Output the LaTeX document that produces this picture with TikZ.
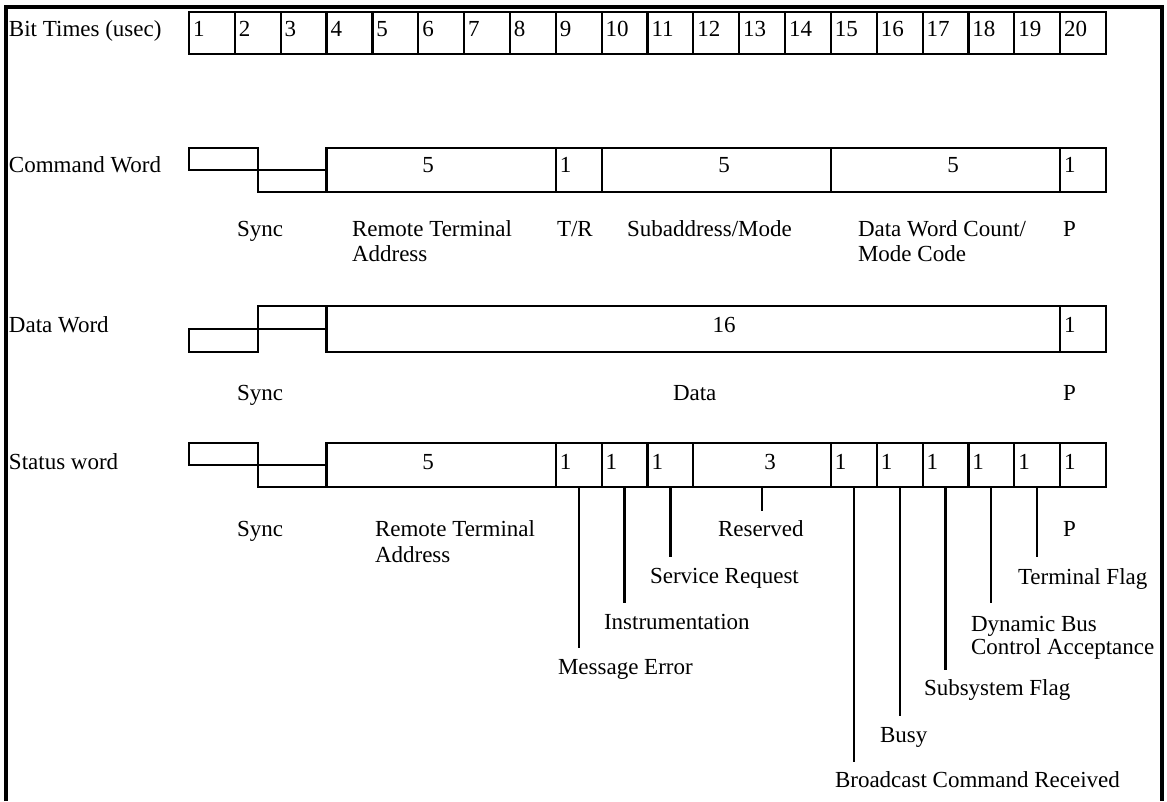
\documentclass[tikz,border=0pt]{standalone}
\usepackage{fontspec}
\setmainfont{Liberation Serif}
\newcommand\mkfield[5]{%
  \pgfmathsetmacro\fxa{189+(#2-1)*45.85}%
  \pgfmathsetmacro\fxb{189+(#3-1)*45.85}%
  \pgfmathsetmacro\fw{\fxb-\fxa}%
  \pgfmathsetmacro\fh{#5-#4}%
  \node[field, minimum width=\fw pt, minimum height=\fh pt, anchor=north west] (#1) at (\fxa,#4) {};%
}
\newcommand\bitx[1]{189+(#1-1)*45.85}
\begin{document}
\begin{tikzpicture}[x=1pt,y=-1pt,
  every node/.style={inner sep=0pt, outer sep=0pt, font=\fontsize{23}{25}\selectfont},
  field/.style={draw, line width=2.2pt},
  txt/.style={anchor=base west},
  num/.style={anchor=base},
  tick/.style={line width=2.2pt},
  frame/.style={line width=4pt, line join=miter}]
\useasboundingbox (0,0) rectangle (1167,801);
% outer frame (open at the bottom)
\coordinate (fbl) at (6,801); \coordinate (ftl) at (6,6.5);
\coordinate (ftr) at (1162,6.5); \coordinate (fbr) at (1162,801);
\draw[frame] (fbl) -- (ftl) -- (ftr) -- (fbr);

% ---------- Bit times row ----------
\node[txt] (lbit) at (9,36.5) {Bit Times (usec)};
\foreach \k in {1,...,20} {
  \mkfield{bit\k}{\k}{\k+1}{12}{54}
  \node[txt] (bn\k) at ({\bitx{\k}+4},36.5) {\k};
}

% ---------- Command word ----------
\node[txt] (lcmd) at (9,172.5) {Command Word};
\mkfield{cs1}{1}{2.5}{148}{170}
\mkfield{cs2}{2.5}{4}{170}{192}
\mkfield{crt}{4}{9}{148}{192}
\mkfield{ctr}{9}{10}{148}{192}
\mkfield{csa}{10}{15}{148}{192}
\mkfield{cwc}{15}{20}{148}{192}
\mkfield{cp}{20}{21}{148}{192}
\node[num] (ncrt) at (428,172.5) {5};
\node[txt] (nctr) at ({\bitx{9}+4},172.5) {1};
\node[num] (ncsa) at (724,172.5) {5};
\node[num] (ncwc) at (953,172.5) {5};
\node[txt] (ncp) at ({\bitx{20}+4},172.5) {1};
\node[txt] (cl1) at (237,236.5) {Sync};
\node[txt] (cl2) at (352,236.5) {Remote Terminal};
\node[txt] (cl2b) at (352,261.5) {Address};
\node[txt] (cl3) at (557,236.5) {T/R};
\node[txt] (cl4) at (627,236.5) {Subaddress/Mode};
\node[txt] (cl5) at (858,236.5) {Data Word Count/};
\node[txt] (cl5b) at (858,261.5) {Mode Code};
\node[txt] (cl6) at (1063,236.5) {P};

% ---------- Data word ----------
\node[txt] (ldat) at (9,332) {Data Word};
\mkfield{ds1}{1}{2.5}{329}{352}
\mkfield{ds2}{2.5}{4}{306}{329}
\mkfield{dd}{4}{20}{306}{352}
\mkfield{dp}{20}{21}{306}{352}
\node[num] (ndd) at (724,332) {16};
\node[txt] (ndp) at ({\bitx{20}+4},332) {1};
\node[txt] (dl1) at (237,400.5) {Sync};
\node[txt] (dl2) at (673,400.5) {Data};
\node[txt] (dl3) at (1063,400.5) {P};

% ---------- Status word ----------
\node[txt] (lsta) at (9,469.5) {Status word};
\mkfield{ss1}{1}{2.5}{443}{465}
\mkfield{ss2}{2.5}{4}{465}{487}
\mkfield{srt}{4}{9}{443}{487}
\mkfield{sme}{9}{10}{443}{487}
\mkfield{sin}{10}{11}{443}{487}
\mkfield{ssr}{11}{12}{443}{487}
\mkfield{sres}{12}{15}{443}{487}
\mkfield{sbc}{15}{16}{443}{487}
\mkfield{sbu}{16}{17}{443}{487}
\mkfield{ssf}{17}{18}{443}{487}
\mkfield{sdb}{18}{19}{443}{487}
\mkfield{stf}{19}{20}{443}{487}
\mkfield{sp}{20}{21}{443}{487}
\node[num] (nsrt) at (428,469.5) {5};
\node[num] (nsres) at (770,469.5) {3};
\foreach \k/\n in {9/sme,10/sin,11/ssr,15/sbc,16/sbu,17/ssf,18/sdb,19/stf,20/sp}
  \node[txt] (n\n) at ({\bitx{\k}+4},469.5) {1};

\node[txt] (sl1) at (237,536.5) {Sync};
\node[txt] (sl2) at (375,536.5) {Remote Terminal};
\node[txt] (sl2b) at (375,562.5) {Address};
\node[txt] (slres) at (718,536.5) {Reserved};
\node[txt] (slp) at (1063,536.5) {P};
\node[txt] (slsr) at (650,583.5) {Service Request};
\node[txt] (sltf) at (1018,584.5) {Terminal Flag};
\node[txt] (slin) at (604,629.5) {Instrumentation};
\node[txt] (sldb) at (971,631.5) {Dynamic Bus};
\node[txt] (sldb2) at (971,654.5) {Control Acceptance};
\node[txt] (slme) at (558,674.5) {Message Error};
\node[txt] (slsf) at (924,695.5) {Subsystem Flag};
\node[txt] (slbu) at (880,742.5) {Busy};
\node[txt] (slbc) at (835,787.5) {Broadcast Command Received};

% tick lines
\foreach \n/\e in {sme/648,sin/603,ssr/557,sres/511,sbc/762,sbu/716,ssf/670,sdb/603,stf/557} {
  \coordinate (e\n) at (\n.south |- 0,\e);
  \draw[tick] (\n.south) -- (e\n);
}
\end{tikzpicture}
\end{document}
